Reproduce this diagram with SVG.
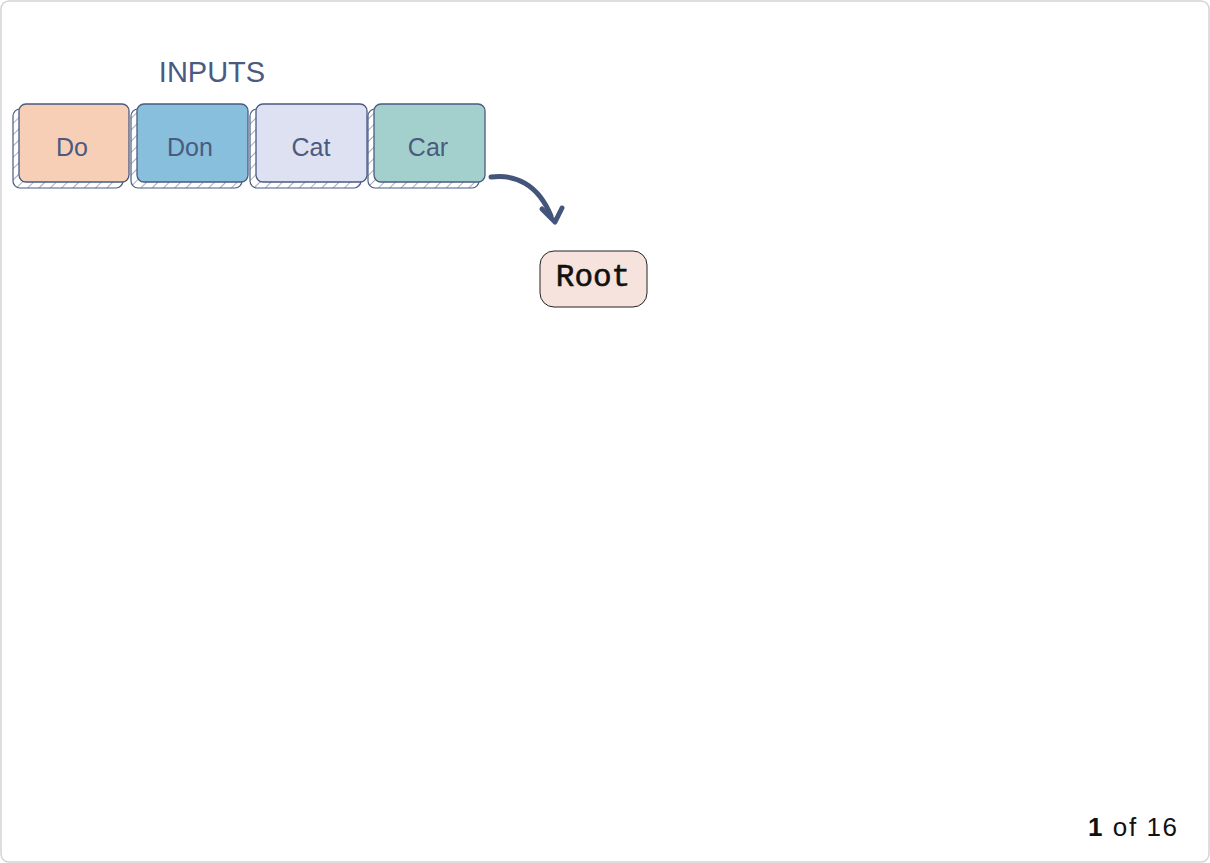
<svg xmlns="http://www.w3.org/2000/svg" width="1210" height="863" viewBox="0 0 1210 863">
<defs>
<pattern id="hatch" width="8" height="8" patternUnits="userSpaceOnUse" patternTransform="rotate(45)">
<line x1="0" y1="0" x2="0" y2="8" stroke="#4a5a80" stroke-width="1"/>
</pattern>
<style>
.lbl{font-family:"Liberation Sans",Arial,sans-serif;font-size:25px;fill:#4a5a80;text-anchor:middle}
.shadow{fill:url(#hatch);stroke:#4a5a80;stroke-width:1.2}
.front{stroke:#4a5a80;stroke-width:1.3}
</style>
</defs>
<rect x="1" y="1" width="1208" height="861" rx="8" fill="#ffffff" stroke="#d4d4d8" stroke-width="1.5"/>
<text x="212" y="82" class="lbl" style="font-size:29px">INPUTS</text>
<g id="node-do">
<rect class="shadow" x="13" y="109" width="110" height="79" rx="7"/>
<rect class="front" x="19" y="104" width="110" height="78" rx="7" fill="#f7cfb6"/>
<text x="72" y="156" class="lbl">Do</text>
</g>
<g id="node-don">
<rect class="shadow" x="131" y="109" width="111" height="79" rx="7"/>
<rect class="front" x="137" y="104" width="111" height="78" rx="7" fill="#88bfdd"/>
<text x="190" y="156" class="lbl">Don</text>
</g>
<g id="node-cat">
<rect class="shadow" x="250" y="109" width="111" height="79" rx="7"/>
<rect class="front" x="256" y="104" width="111" height="78" rx="7" fill="#dde1f2"/>
<text x="311" y="156" class="lbl">Cat</text>
</g>
<g id="node-car">
<rect class="shadow" x="368" y="109" width="111" height="79" rx="7"/>
<rect class="front" x="374" y="104" width="111" height="78" rx="7" fill="#a3d0cc"/>
<text x="428" y="156" class="lbl">Car</text>
</g>
<g id="node-root">
<rect x="540" y="251" width="107" height="56" rx="14" fill="#f7e3de" stroke="#222" stroke-width="1"/>
<text x="593" y="286" font-family="Liberation Mono,Courier New,monospace" font-size="31" fill="#111" stroke="#111" stroke-width="0.6" text-anchor="middle">Root</text>
</g>
<g id="connectors">
<path d="M491 177 C515 174 538 184 551 216" fill="none" stroke="#44557c" stroke-width="5" stroke-linecap="round"/>
<path d="M542 209 L555 222 L562 208" fill="none" stroke="#44557c" stroke-width="5" stroke-linecap="round" stroke-linejoin="round"/>
</g>
<text x="1088" y="836" font-family="Liberation Sans,Arial,sans-serif" font-size="26" fill="#111" textLength="89" lengthAdjust="spacing"><tspan font-weight="bold">1</tspan> of 16</text>
</svg>
